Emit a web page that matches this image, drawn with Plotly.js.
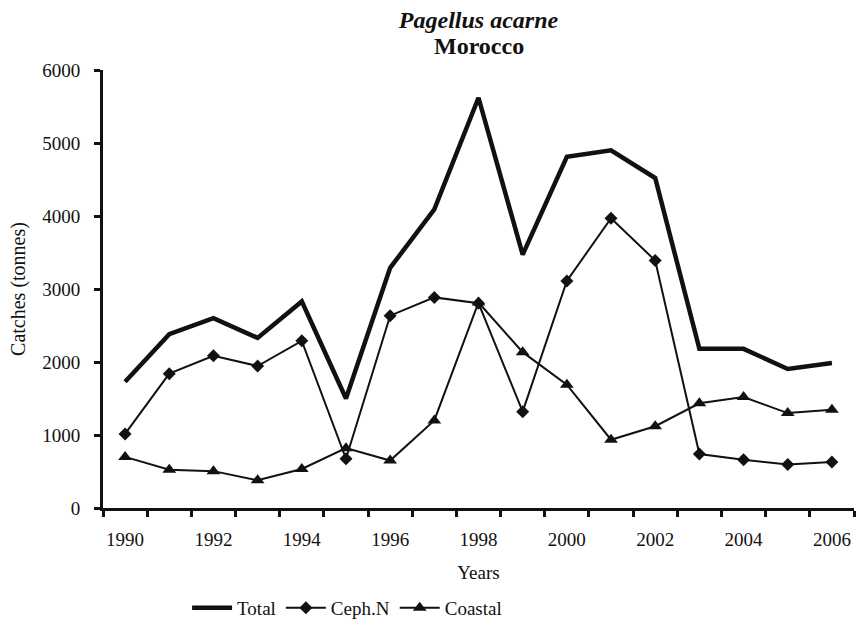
<!DOCTYPE html>
<html>
<head>
<meta charset="utf-8">
<script src="https://cdn.plot.ly/plotly-3.0.1.min.js"></script>
<style>html,body{margin:0;padding:0;background:#fff;}</style>
</head>
<body>
<div id="chart" style="width:857px;height:623px;"></div>
<script>
var years = [1990,1991,1992,1993,1994,1995,1996,1997,1998,1999,2000,2001,2002,2003,2004,2005,2006];
var total = [1730,2380,2600,2330,2830,1500,3290,4090,5620,3470,4810,4900,4520,2180,2180,1905,1985];
var cephN = [1015,1840,2085,1945,2290,675,2635,2885,2805,1320,3110,3970,3390,740,660,595,630];
var coastal = [700,525,505,380,535,820,650,1200,2815,2135,1690,935,1120,1435,1520,1300,1345];
var xTickLabels = [1990,1992,1994,1996,1998,2000,2002,2004,2006];
var speciesName = 'Pagellus acarne';
var countryName = 'Morocco';

var ink = '#111111';
var serif = 'Liberation Serif, Times New Roman, serif';

var traces = [
  {x: years, y: total, name: 'Total', type: 'scatter', mode: 'lines',
   line: {color: ink, width: 4.5}},
  {x: years, y: cephN, name: 'Ceph.N', type: 'scatter', mode: 'lines+markers',
   line: {color: ink, width: 2}, marker: {symbol: 'diamond', size: 10, color: ink}},
  {x: years, y: coastal, name: 'Coastal', type: 'scatter', mode: 'lines+markers',
   line: {color: ink, width: 2}, marker: {symbol: 'triangle-up', size: 12, color: ink}}
];

var boundaries = [];
for (var i = 0; i <= years.length; i++) boundaries.push(years[0] - 0.5 + i);

var layout = {
  width: 857, height: 623,
  paper_bgcolor: '#ffffff', plot_bgcolor: '#ffffff',
  margin: {l: 103, r: 3, t: 70, b: 115, autoexpand: false},
  font: {family: serif, color: ink, size: 19},
  title: {
    text: '<b><i>' + speciesName + '</i></b>',
    font: {family: serif, size: 24, color: ink},
    x: 0.5, xref: 'paper', xanchor: 'center',
    y: 0.968, yref: 'container', yanchor: 'middle'
  },
  annotations: [{
    text: '<b>' + countryName + '</b>', showarrow: false,
    xref: 'paper', yref: 'paper', x: 0.5, xanchor: 'center',
    y: 1.055, yanchor: 'middle',
    font: {family: serif, size: 24, color: ink}
  }],
  xaxis: {
    range: [years[0] - 0.5, years[years.length - 1] + 0.5],
    tickmode: 'array', tickvals: xTickLabels, ticktext: xTickLabels.map(String),
    ticks: 'outside', ticklen: 12, tickcolor: 'rgba(0,0,0,0)',
    minor: {tickmode: 'array', tickvals: boundaries, ticks: 'outside', ticklen: 6, tickwidth: 3, tickcolor: ink, showgrid: false},
    showline: true, linewidth: 3, linecolor: ink,
    showgrid: false, zeroline: false,
    tickfont: {family: serif, size: 19, color: ink},
    title: {text: 'Years', font: {family: serif, size: 19, color: ink}, standoff: 17}
  },
  yaxis: {
    range: [0, 6000], dtick: 1000, tick0: 0,
    ticks: 'outside', ticklen: 6, tickwidth: 3, tickcolor: ink,
    ticklabelstandoff: 10,
    showline: true, linewidth: 3, linecolor: ink,
    showgrid: false, zeroline: false,
    tickfont: {family: serif, size: 19, color: ink},
    title: {text: 'Catches (tonnes)', font: {family: serif, size: 20, color: ink}, standoff: 12}
  },
  showlegend: true,
  legend: {
    orientation: 'h', x: 0.325, xanchor: 'center', y: -0.228, yanchor: 'middle',
    font: {family: serif, size: 19, color: ink}, itemwidth: 40, tracegroupgap: 0,
    bgcolor: 'rgba(0,0,0,0)'
  }
};

Plotly.newPlot('chart', traces, layout, {displayModeBar: false, staticPlot: true});
</script>
</body>
</html>
